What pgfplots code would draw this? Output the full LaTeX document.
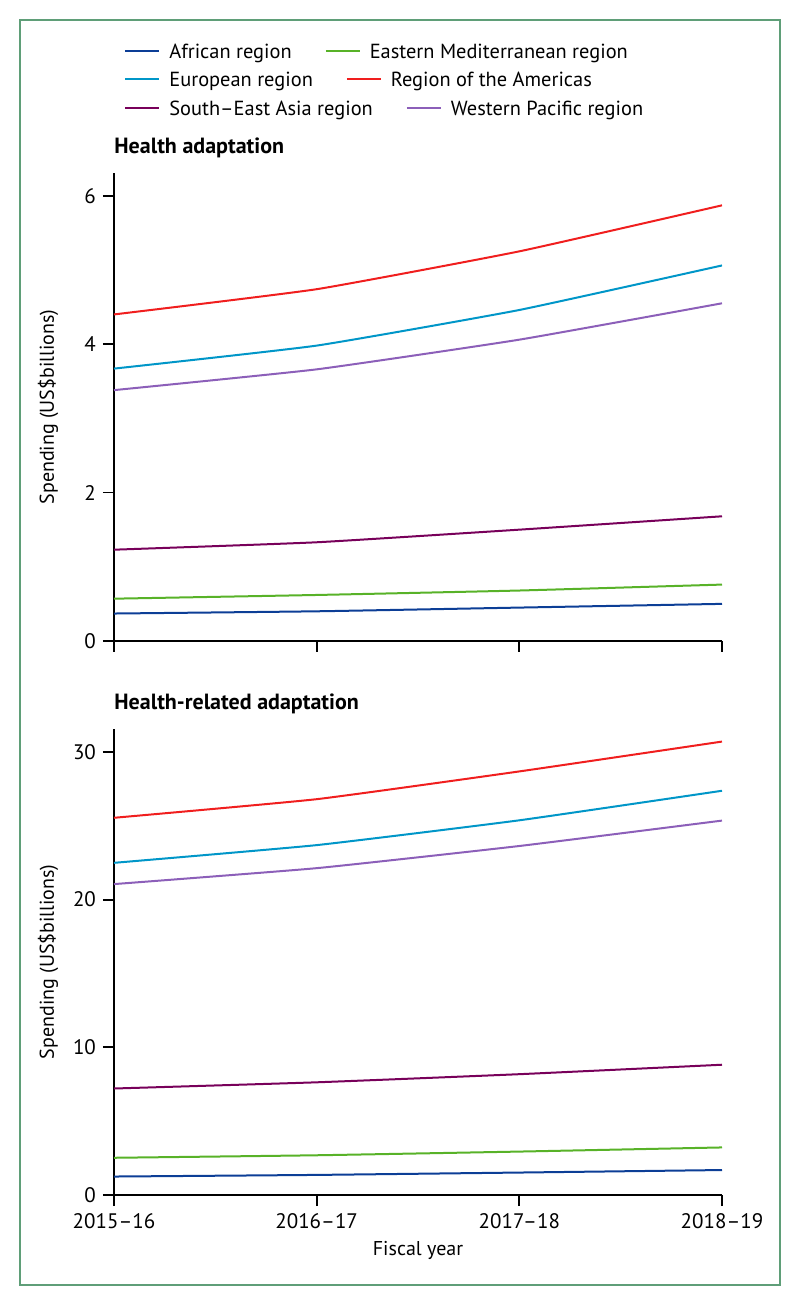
\documentclass[border=0pt]{standalone}
\usepackage{pgfplots}
\pgfplotsset{compat=1.18}
\usepackage{fontspec}
\setmainfont{PT Sans}
\definecolor{cAfr}{RGB}{12,62,150}
\definecolor{cEM}{RGB}{88,178,40}
\definecolor{cEur}{RGB}{0,150,200}
\definecolor{cAme}{RGB}{240,30,30}
\definecolor{cSEA}{RGB}{120,0,90}
\definecolor{cWP}{RGB}{140,95,185}
\definecolor{frame}{RGB}{95,158,120}
\newcommand{\leg}[1]{\textcolor{#1}{\rule[0.3em]{17pt}{1pt}}\hspace{5pt}}
\pgfplotsset{myax/.style={scale only axis, width=304pt, xmin=0, xmax=3,
  axis lines*=left, axis line style={line width=0.9pt,-}, tick style={line width=0.9pt,black},
  tick align=outside, major tick length=5.5pt, xtick={0,1,2,3},
  ylabel={Spending (US\$billions)},
  ylabel style={at={(axis description cs:-0.1086,0.5)}, anchor=center, font=\fontsize{10}{12}\selectfont},
  every axis plot/.append style={line width=1pt, smooth, tension=0.25, no marks},
  tick label style={font=\fontsize{10.5}{12}\selectfont},
  /pgf/number format/assume math mode=true,
  title style={at={(axis description cs:0,1)}, anchor=west, inner sep=0pt, yshift=6.5pt, font=\bfseries\fontsize{11}{13}\selectfont},
  clip=false}}
\begin{document}
\begin{tikzpicture}
\path[use as bounding box] (0pt,0pt) rectangle (400pt,652pt);
\draw[frame, line width=1pt] (10pt,9.5pt) rectangle (390pt,642pt);
\node[anchor=west, inner sep=0pt, font=\fontsize{10.2}{12}\selectfont] at (62.5pt,625.5pt) {\leg{cAfr}African region\hspace{17pt}\leg{cEM}Eastern Mediterranean region};
\node[anchor=west, inner sep=0pt, font=\fontsize{10.2}{12}\selectfont] at (62.5pt,611.5pt) {\leg{cEur}European region\hspace{17pt}\leg{cAme}Region of the Americas};
\node[anchor=west, inner sep=0pt, font=\fontsize{10.2}{12}\selectfont] at (62.5pt,597pt) {\leg{cSEA}South–East Asia region\hspace{17pt}\leg{cWP}Western Pacific region};

\begin{axis}[myax, at={(57pt,331.5pt)}, anchor=south west, height=234pt,
  ymin=0, ymax=6.306, ytick={0,2,4,6}, xticklabels={}, title={Health adaptation}]
\addplot[cAfr] coordinates {(0,0.37) (1,0.40) (2,0.45) (3,0.50)};
\addplot[cEM] coordinates {(0,0.57) (1,0.62) (2,0.68) (3,0.76)};
\addplot[cEur] coordinates {(0,3.67) (1,3.98) (2,4.46) (3,5.06)};
\addplot[cAme] coordinates {(0,4.40) (1,4.74) (2,5.25) (3,5.87)};
\addplot[cSEA] coordinates {(0,1.23) (1,1.33) (2,1.50) (3,1.68)};
\addplot[cWP] coordinates {(0,3.38) (1,3.66) (2,4.06) (3,4.55)};
\end{axis}

\begin{axis}[myax, at={(57pt,54.5pt)}, anchor=south west, height=233.2pt,
  ymin=0, ymax=31.58, ytick={0,10,20,30},
  xticklabels={2015–16,2016–17,2017–18,2018–19},
  xlabel={Fiscal year},
  xlabel style={at={(axis description cs:0.5,-0.118)}, anchor=center, font=\fontsize{10}{12}\selectfont},
  title={Health-related adaptation}]
\addplot[cAfr] coordinates {(0,1.25) (1,1.36) (2,1.52) (3,1.69)};
\addplot[cEM] coordinates {(0,2.52) (1,2.69) (2,2.94) (3,3.22)};
\addplot[cEur] coordinates {(0,22.49) (1,23.69) (2,25.37) (3,27.37)};
\addplot[cAme] coordinates {(0,25.54) (1,26.80) (2,28.68) (3,30.70)};
\addplot[cSEA] coordinates {(0,7.21) (1,7.63) (2,8.18) (3,8.82)};
\addplot[cWP] coordinates {(0,21.05) (1,22.13) (2,23.63) (3,25.35)};
\end{axis}
\end{tikzpicture}
\end{document}
